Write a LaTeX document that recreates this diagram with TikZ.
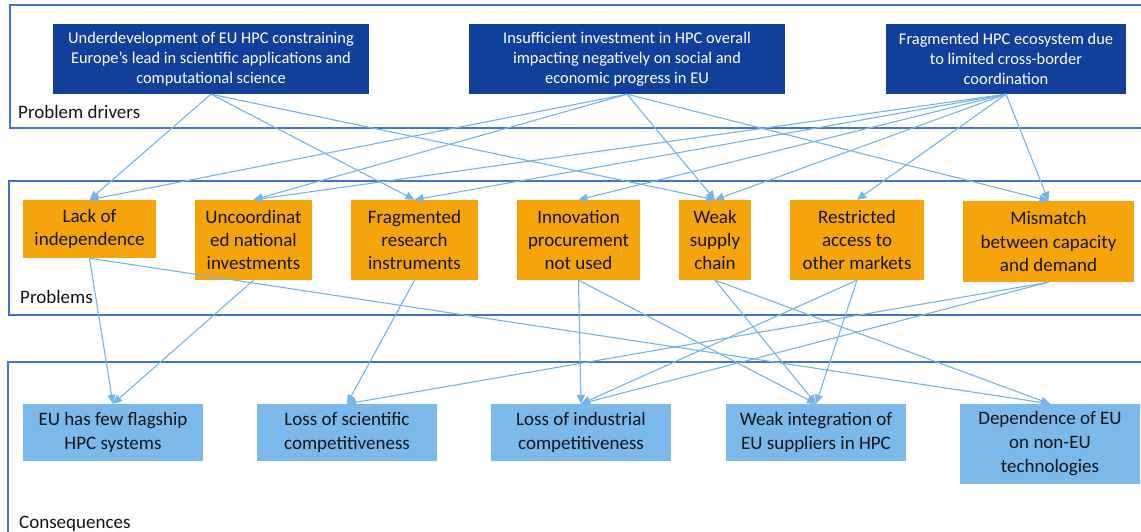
\documentclass[tikz,border=0pt]{standalone}
\usepackage{fontspec}
\setmainfont{Carlito}
\usetikzlibrary{arrows.meta}

\definecolor{drvblue}{HTML}{11409A}
\definecolor{probor}{HTML}{F5A50B}
\definecolor{conblue}{HTML}{7AB9EA}
\definecolor{framec}{HTML}{4472C4}
\definecolor{linkc}{HTML}{74B4E8}
\definecolor{inkc}{HTML}{141414}

\tikzset{
  frame/.style={draw=framec, line width=1.2pt},
  drv/.style={fill=drvblue, text=white, inner sep=0pt, align=center,
    font=\fontsize{16.4}{20}\selectfont},
  prob/.style={fill=probor, text=inkc, inner sep=0pt, align=center,
    font=\fontsize{19}{23.3}\selectfont},
  cons/.style={fill=conblue, text=inkc, inner sep=0pt, align=center,
    font=\fontsize{19}{24}\selectfont},
  grp/.style={text=inkc, inner sep=0pt, anchor=base west,
    font=\fontsize{19}{23}\selectfont},
  link/.style={draw=linkc, line width=1.1pt,
    -{Triangle[length=9pt,width=8pt]}},
}

\begin{document}
\begin{tikzpicture}[x=1pt,y=-1pt]
\useasboundingbox (0,0) rectangle (1141,532);
\clip (0,0) rectangle (1141,532);
\fill[white] (0,0) rectangle (1141,532);

% group frames (open on the right)
\draw[frame] (10,5) rectangle (1160,128);
\draw[frame] (9,181) rectangle (1160,315);
\draw[frame] (8,362) rectangle (1160,560);

% group captions
\node[grp] (gdrv) at (18,119) {Problem drivers};
\node[grp] (gprob) at (20,303) {Problems};
\node[grp] (gcons) at (19,528) {Consequences};

% problem drivers
\node[drv, minimum width=316pt, minimum height=70pt] (d1) at (211,59)
  {Underdevelopment of EU HPC constraining\\Europe’s lead in scientific applications and\\computational science};
\node[drv, minimum width=316pt, minimum height=70pt] (d2) at (627,59)
  {Insufficient investment in HPC overall\\impacting negatively on social and\\economic progress in EU};
\node[drv, minimum width=240pt, minimum height=70pt] (d3) at (1006,59)
  {Fragmented HPC ecosystem due\\to limited cross-border\\coordination};

% problems
\node[prob, minimum width=133pt, minimum height=58pt] (p1) at (89.5,229)
  {Lack of\\independence};
\node[prob, minimum width=117pt, minimum height=80pt] (p2) at (253.5,240)
  {Uncoordinat\\ed national\\investments};
\node[prob, minimum width=127pt, minimum height=80pt] (p3) at (414.5,240)
  {Fragmented\\research\\instruments};
\node[prob, minimum width=123pt, minimum height=80pt] (p4) at (578.5,240)
  {Innovation\\procurement\\not used};
\node[prob, minimum width=72pt, minimum height=80pt] (p5) at (715,240)
  {Weak\\supply\\chain};
\node[prob, minimum width=134pt, minimum height=80pt] (p6) at (857,240)
  {Restricted\\access to\\other markets};
\node[prob, minimum width=171pt, minimum height=81pt] (p7) at (1048.5,241.5)
  {Mismatch\\between capacity\\and demand};

% consequences
\node[cons, minimum width=180pt, minimum height=57pt] (c1) at (113,432.5)
  {EU has few flagship\\HPC systems};
\node[cons, minimum width=180pt, minimum height=57pt] (c2) at (347,432.5)
  {Loss of scientific\\competitiveness};
\node[cons, minimum width=180pt, minimum height=57pt] (c3) at (581,432.5)
  {Loss of industrial\\competitiveness};
\node[cons, minimum width=180pt, minimum height=57pt] (c4) at (816,432.5)
  {Weak integration of\\EU suppliers in HPC};
\node[cons, minimum width=180pt, minimum height=80pt] (c5) at (1050,444)
  {Dependence of EU\\on non-EU\\technologies};

% drivers -> problems
\draw[link] (d1.south) -- (p1.north);
\draw[link] (d1.south) -- (p3.north);
\draw[link] (d1.south) -- (p5.north);
\draw[link] (d2.south) -- (p1.north);
\draw[link] (d2.south) -- (p2.north);
\draw[link] (d2.south) -- (p5.north);
\draw[link] (d2.south) -- (p7.north);
\draw[link] (d3.south) -- (p2.north);
\draw[link] (d3.south) -- (p3.north);
\draw[link] (d3.south) -- (p4.north);
\draw[link] (d3.south) -- (p5.north);
\draw[link] (d3.south) -- (p6.north);
\draw[link] (d3.south) -- (p7.north);

% problems -> consequences
\draw[link] (p1.south) -- (c1.north);
\draw[link] (p1.south) -- (c5.north);
\draw[link] (p2.south) -- (c1.north);
\draw[link] (p3.south) -- (c2.north);
\draw[link] (p4.south) -- (c3.north);
\draw[link] (p4.south) -- (c4.north);
\draw[link] (p5.south) -- (c4.north);
\draw[link] (p5.south) -- (c5.north);
\draw[link] (p6.south) -- (c3.north);
\draw[link] (p6.south) -- (c4.north);
\draw[link] (p7.south) -- (c2.north);
\draw[link] (p7.south) -- (c3.north);
\end{tikzpicture}
\end{document}
